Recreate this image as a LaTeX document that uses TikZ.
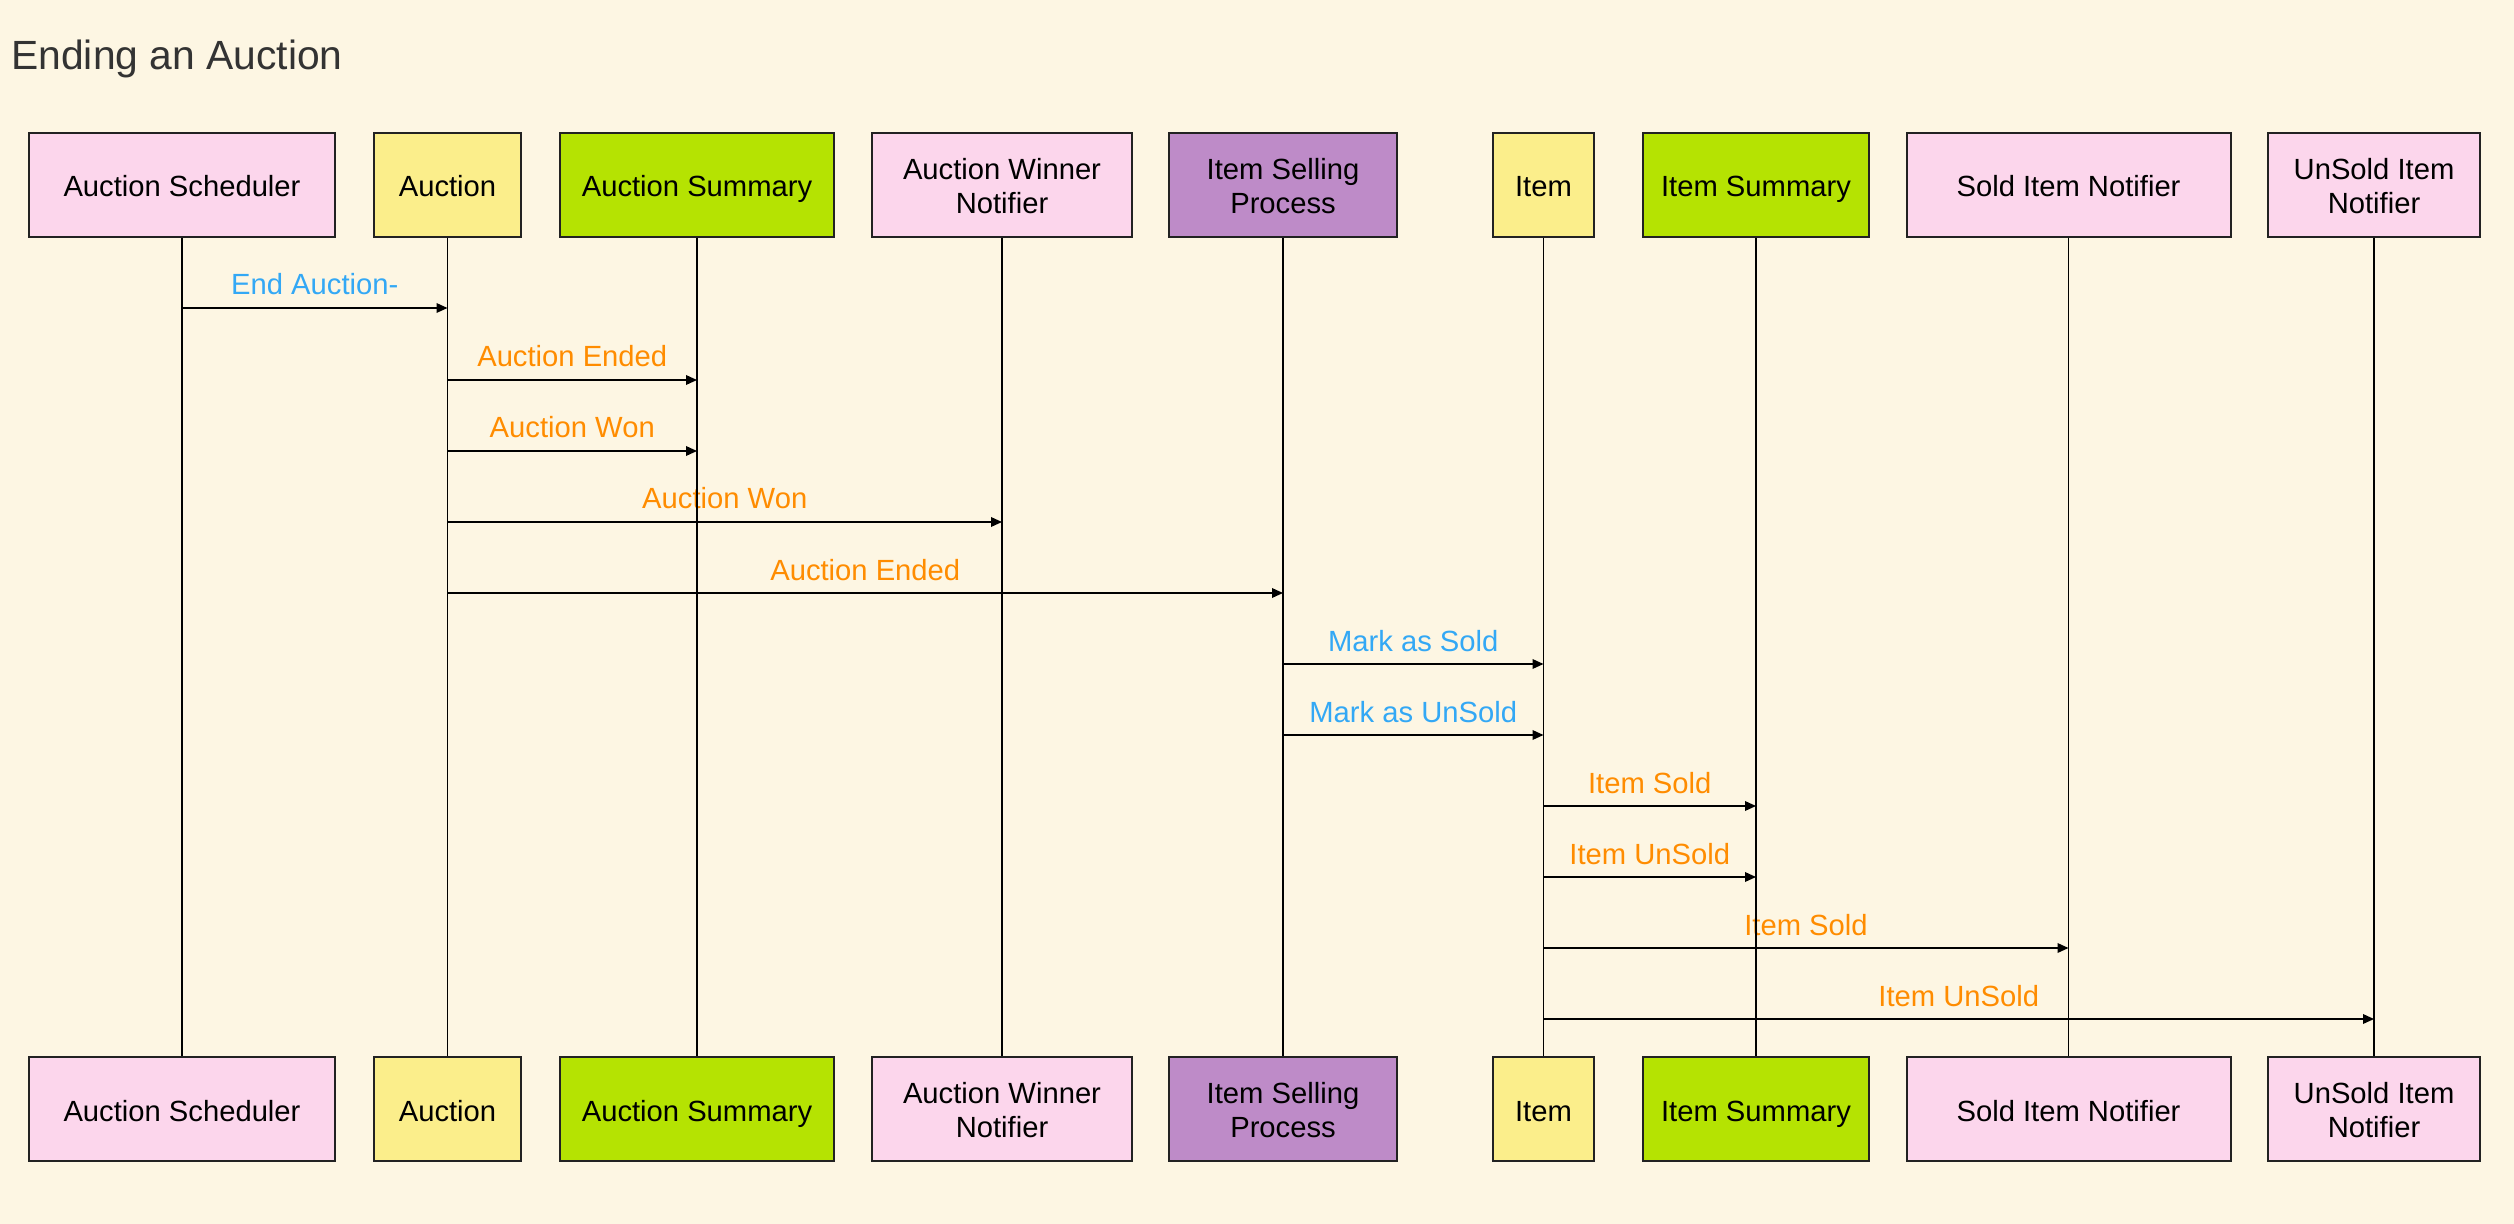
\documentclass[tikz,border=0pt]{standalone}
\usepackage{fontspec}
\setmainfont{Liberation Sans}
\usetikzlibrary{arrows.meta}
\definecolor{bgc}{HTML}{FDF6E3}
\definecolor{pinkc}{HTML}{FCD6EC}
\definecolor{yellowc}{HTML}{FBEE8B}
\definecolor{greenc}{HTML}{B5E302}
\definecolor{purplec}{HTML}{BE8BC8}
\definecolor{orangec}{HTML}{FF8C00}
\definecolor{bluec}{HTML}{33A8F5}
\definecolor{titlec}{HTML}{333333}
\definecolor{edgec}{HTML}{222222}
\tikzset{
  actor/.style={draw=edgec, line width=1pt, minimum height=52pt, inner sep=0pt, align=center,
    font=\fontsize{14.6pt}{17pt}\selectfont, text=black, text depth=0pt, text height=12pt},
  twoline/.style={text height=28.3pt, text depth=0pt},
  pinkbox/.style={actor, fill=pinkc},
  yellowbox/.style={actor, fill=yellowc},
  greenbox/.style={actor, fill=greenc},
  purplebox/.style={actor, fill=purplec},
  lifeline/.style={draw=black, line width=0.8pt},
  msg/.style={draw=black, line width=0.75pt, -{Triangle[length=5.5pt,width=4.8pt]}},
  msglabel/.style={anchor=base, inner sep=0pt, font=\fontsize{14.6pt}{17pt}\selectfont},
  synclabel/.style={msglabel, text=bluec},
  evlabel/.style={msglabel, text=orangec}
}
\begin{document}
\begin{tikzpicture}[x=0.5pt,y=-0.5pt]
\fill[bgc] (0,0) rectangle (2514,1224);
\useasboundingbox (0,0) rectangle (2514,1224);

\node[anchor=base west, inner sep=0pt, text=titlec, font=\fontsize{20.4pt}{24pt}\selectfont] (title) at (11,70) {Ending an Auction};

% top row
\node[pinkbox, minimum width=153pt] (a1t) at (182,185) {Auction Scheduler};
\node[yellowbox, minimum width=73.5pt] (a2t) at (447.5,185) {Auction};
\node[greenbox, minimum width=137pt] (a3t) at (697,185) {Auction Summary};
\node[pinkbox, twoline, minimum width=130pt] (a4t) at (1002,185) {Auction Winner\\Notifier};
\node[purplebox, twoline, minimum width=114pt] (a5t) at (1283,185) {Item Selling\\Process};
\node[yellowbox, minimum width=50.5pt] (a6t) at (1543.5,185) {Item};
\node[greenbox, minimum width=113pt] (a7t) at (1756,185) {Item Summary};
\node[pinkbox, minimum width=162pt] (a8t) at (2068.5,185) {Sold Item Notifier};
\node[pinkbox, twoline, minimum width=106pt] (a9t) at (2374,185) {UnSold Item\\Notifier};

% bottom row
\node[pinkbox, minimum width=153pt] (a1b) at (182,1109) {Auction Scheduler};
\node[yellowbox, minimum width=73.5pt] (a2b) at (447.5,1109) {Auction};
\node[greenbox, minimum width=137pt] (a3b) at (697,1109) {Auction Summary};
\node[pinkbox, twoline, minimum width=130pt] (a4b) at (1002,1109) {Auction Winner\\Notifier};
\node[purplebox, twoline, minimum width=114pt] (a5b) at (1283,1109) {Item Selling\\Process};
\node[yellowbox, minimum width=50.5pt] (a6b) at (1543.5,1109) {Item};
\node[greenbox, minimum width=113pt] (a7b) at (1756,1109) {Item Summary};
\node[pinkbox, minimum width=162pt] (a8b) at (2068.5,1109) {Sold Item Notifier};
\node[pinkbox, twoline, minimum width=106pt] (a9b) at (2374,1109) {UnSold Item\\Notifier};

% message labels
\node[synclabel] (l1) at (314.75,295) {End Auction-};
\node[evlabel] (l2) at (572.25,367) {Auction Ended};
\node[evlabel] (l3) at (572.25,438) {Auction Won};
\node[evlabel] (l4) at (724.75,509) {Auction Won};
\node[evlabel] (l5) at (865.25,580) {Auction Ended};
\node[synclabel] (l6) at (1413.25,651) {Mark as Sold};
\node[synclabel] (l7) at (1413.25,722) {Mark as UnSold};
\node[evlabel] (l8) at (1649.75,793) {Item Sold};
\node[evlabel] (l9) at (1649.75,864) {Item UnSold};
\node[evlabel] (l10) at (1806,935) {Item Sold};
\node[evlabel] (l11) at (1958.75,1006) {Item UnSold};

% lifelines
\foreach \i in {1,...,9} {
  \draw[lifeline] (a\i t.south) -- (a\i b.north);
}

% message rows
\coordinate (m1) at (0,308);
\coordinate (m2) at (0,380);
\coordinate (m3) at (0,451);
\coordinate (m4) at (0,522);
\coordinate (m5) at (0,593);
\coordinate (m6) at (0,664);
\coordinate (m7) at (0,735);
\coordinate (m8) at (0,806);
\coordinate (m9) at (0,877);
\coordinate (m10) at (0,948);
\coordinate (m11) at (0,1019);

\draw[msg] (a1t |- m1) -- (a2t |- m1);
\draw[msg] (a2t |- m2) -- (a3t |- m2);
\draw[msg] (a2t |- m3) -- (a3t |- m3);
\draw[msg] (a2t |- m4) -- (a4t |- m4);
\draw[msg] (a2t |- m5) -- (a5t |- m5);
\draw[msg] (a5t |- m6) -- (a6t |- m6);
\draw[msg] (a5t |- m7) -- (a6t |- m7);
\draw[msg] (a6t |- m8) -- (a7t |- m8);
\draw[msg] (a6t |- m9) -- (a7t |- m9);
\draw[msg] (a6t |- m10) -- (a8t |- m10);
\draw[msg] (a6t |- m11) -- (a9t |- m11);
\end{tikzpicture}
\end{document}
